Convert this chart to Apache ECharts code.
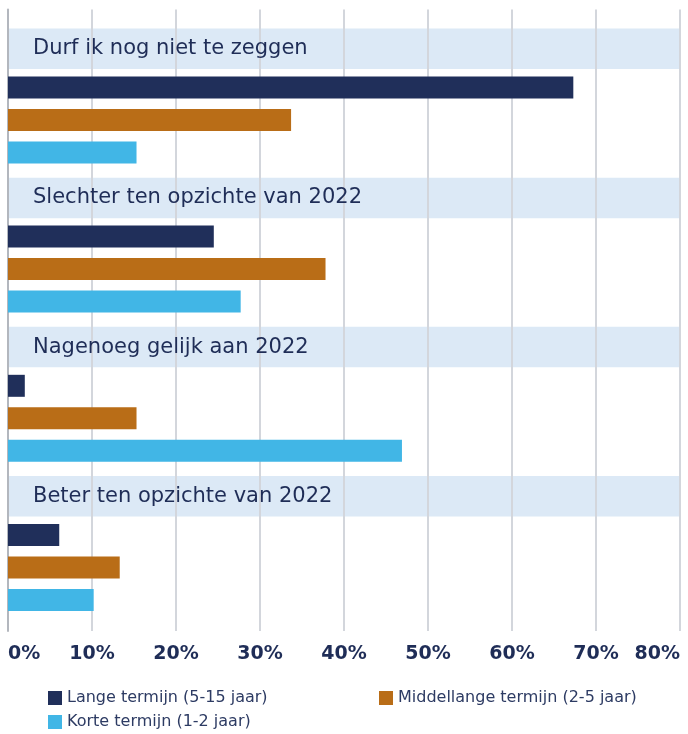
<!DOCTYPE html>
<html>
<head>
<meta charset="utf-8">
<script src="https://cdn.jsdelivr.net/npm/echarts@6/dist/echarts.min.js"></script>
<style>
html,body{margin:0;padding:0;background:#fff;}
#chart{width:688px;height:734px;}
</style>
</head>
<body>
<div id="chart"></div>
<script>
const categories = ['Durf ik nog niet te zeggen', 'Slechter ten opzichte van 2022', 'Nagenoeg gelijk aan 2022', 'Beter ten opzichte van 2022'];
const seriesNames = ['Lange termijn (5-15 jaar)', 'Middellange termijn (2-5 jaar)', 'Korte termijn (1-2 jaar)'];
const langeTermijn = [67.3, 24.5, 2.0, 6.1];
const middellangeTermijn = [33.7, 37.8, 15.3, 13.3];
const korteTermijn = [15.3, 27.7, 46.9, 10.2];
const bandValues = [80, 80, 80, 80];
const tickValues = [0, 10, 20, 30, 40, 50, 60, 70, 80];

const colors = ['#202f5a', '#b96d17', '#41b6e6'];
const FONT = 'DejaVu Sans';
const NAVY = '#1f2d57';

const chart = echarts.init(document.getElementById('chart'), null, {renderer: 'canvas'});

const barW = 22;
const bandW = 40.5;

const dataSeries = [langeTermijn, middellangeTermijn, korteTermijn].map((d, i) => ({
  name: seriesNames[i],
  type: 'bar',
  xAxisIndex: 1,
  yAxisIndex: 1,
  barWidth: barW,
  barGap: '47.7%',
  z: 5,
  itemStyle: {color: colors[i]},
  data: d
}));

const option = {
  animation: false,
  grid: [
    {left: 8, right: 8, top: 9.5, bottom: 103},
    {left: 8, right: 8, top: 20, height: 596.8}
  ],
  xAxis: [
    {
      gridIndex: 0, type: 'value', min: tickValues[0], max: tickValues[tickValues.length - 1], interval: 10,
      z: 3,
      axisLine: {show: false}, axisTick: {show: false},
      splitLine: {show: true, lineStyle: {color: '#d3d6dc', width: 2}},
      axisLabel: {
        formatter: '{value}%', fontFamily: FONT, fontWeight: 'bold', fontSize: 19, color: NAVY,
        margin: 14, alignMinLabel: 'left', alignMaxLabel: 'right'
      }
    },
    {gridIndex: 1, type: 'value', min: 0, max: 80, show: false}
  ],
  yAxis: [
    {gridIndex: 0, type: 'value', min: 0, max: 1, z: 3,
      axisLine: {show: true, lineStyle: {color: '#b3b7be', width: 2}},
      axisTick: {show: false}, axisLabel: {show: false}, splitLine: {show: false}},
    {gridIndex: 1, type: 'category', data: categories, inverse: true, show: false},
    {gridIndex: 1, type: 'category', data: categories, inverse: true, show: false}
  ],
  legend: [
    {
      data: [seriesNames[0], seriesNames[2]], orient: 'vertical', left: 48, top: 690, padding: 0,
      itemWidth: 14, itemHeight: 14, itemGap: 8, icon: 'rect',
      textStyle: {fontFamily: FONT, fontSize: 16, color: '#2d3b63'}
    },
    {
      data: [seriesNames[1]], orient: 'vertical', left: 379, top: 690, padding: 0,
      itemWidth: 14, itemHeight: 14, itemGap: 8, icon: 'rect',
      textStyle: {fontFamily: FONT, fontSize: 16, color: '#2d3b63'}
    }
  ],
  series: [
    {
      name: 'band', type: 'bar', xAxisIndex: 1, yAxisIndex: 2, barWidth: bandW, barGap: '-100%', z: 2,
      silent: true,
      itemStyle: {color: '#dce9f6'},
      data: bandValues
    },
    {
      name: 'bandLabel', type: 'bar', xAxisIndex: 1, yAxisIndex: 2, barWidth: bandW, barGap: '-100%', z: 6,
      silent: true,
      itemStyle: {color: 'rgba(0,0,0,0)'},
      label: {show: true, position: 'insideLeft', distance: 25, formatter: '{b}',
        fontFamily: FONT, fontSize: 21, color: NAVY},
      data: bandValues
    },
    {name: 'spacerBand', type: 'bar', xAxisIndex: 1, yAxisIndex: 2, barWidth: 132.3, barGap: '-100%', silent: true, data: []},
    {name: 'spacerBars', type: 'bar', xAxisIndex: 1, yAxisIndex: 1, barWidth: 34.26, barGap: '47.7%', silent: true, data: []},
    ...dataSeries
  ]
};
chart.setOption(option);
</script>
</body>
</html>
